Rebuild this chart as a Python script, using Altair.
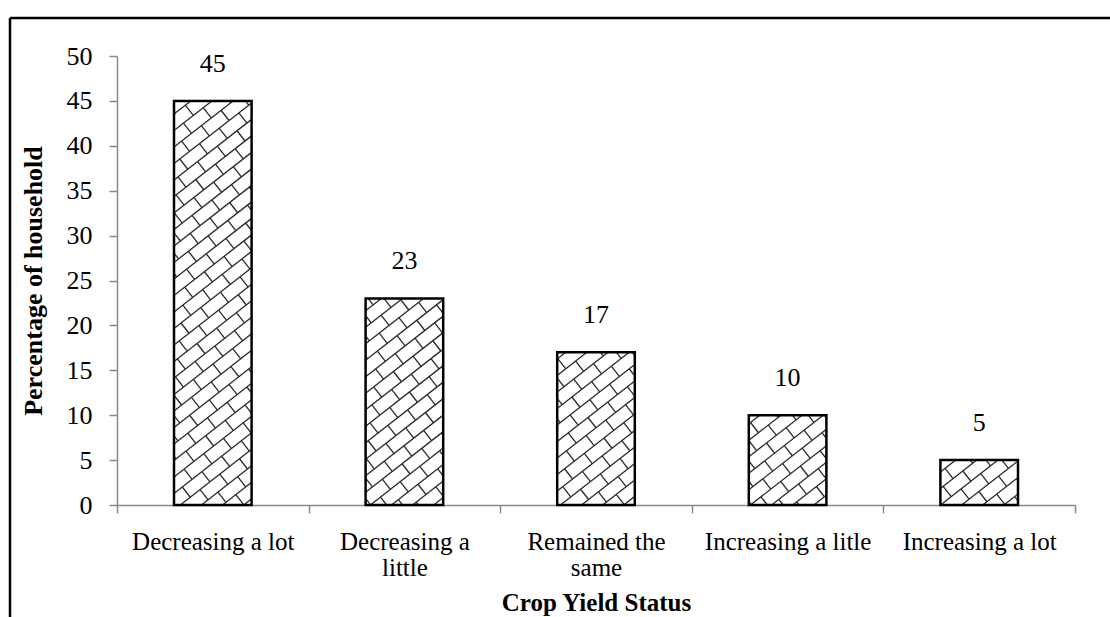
import math

import altair as alt
import numpy as np
import pandas as pd

# Share of households by perceived change in crop yield (%)
categories = [
    "Decreasing a lot",
    "Decreasing a\nlittle",
    "Remained the\nsame",
    "Increasing a litle",
    "Increasing a lot",
]
percent = [45, 23, 17, 10, 5]

y_ticks = [0, 5, 10, 15, 20, 25, 30, 35, 40, 45, 50]

# Plot geometry (plot area only) and bar width as a fraction of a band
W, H = 958, 449
Y_MAX = 50
BAR_FRAC = 0.405
N = len(categories)

SERIF = "Liberation Serif"
AXIS_GREY = "#8a8a8a"

# "Diagonal brick" fill: slanted rows with staggered joints, built in pixel
# space then converted to data units so it follows the scales.
HATCH_ANGLE = math.radians(38)
HATCH_GAP = 13.0
BRICK_LEN = 25.0

px_per_band = W / N
px_per_unit = H / Y_MAX


def clip_segment(p0, p1, rect):
    """Liang-Barsky clip of a segment to an axis-aligned rectangle."""
    x0, y0, x1, y1 = rect
    dx, dy = p1[0] - p0[0], p1[1] - p0[1]
    t0, t1 = 0.0, 1.0
    for p, q in ((-dx, p0[0] - x0), (dx, x1 - p0[0]), (-dy, p0[1] - y0), (dy, y1 - p0[1])):
        if abs(p) < 1e-12:
            if q < 0:
                return None
            continue
        r = q / p
        if p < 0:
            if r > t1:
                return None
            t0 = max(t0, r)
        else:
            if r < t0:
                return None
            t1 = min(t1, r)
    if t1 - t0 < 1e-6:
        return None
    return (p0[0] + t0 * dx, p0[1] + t0 * dy, p0[0] + t1 * dx, p0[1] + t1 * dy)


def brick_segments(i, value):
    left = (i + (1 - BAR_FRAC) / 2) * px_per_band
    right = left + BAR_FRAC * px_per_band
    top = value * px_per_unit
    rect = (left, 0.0, right, top)
    u = np.array([math.cos(HATCH_ANGLE), math.sin(HATCH_ANGLE)])
    n = np.array([-math.sin(HATCH_ANGLE), math.cos(HATCH_ANGLE)])
    corners = np.array([[left, 0.0], [right, 0.0], [left, top], [right, top]])
    cs, ts = corners @ n, corners @ u
    k_lo = int(math.floor(cs.min() / HATCH_GAP)) - 1
    k_hi = int(math.ceil(cs.max() / HATCH_GAP)) + 1
    t_lo, t_hi = ts.min() - BRICK_LEN, ts.max() + BRICK_LEN
    segs = []
    for k in range(k_lo, k_hi + 1):
        base = k * HATCH_GAP * n
        s = clip_segment(base + t_lo * u, base + t_hi * u, rect)
        if s:
            segs.append(s)
        shift = (k % 2) * BRICK_LEN / 2
        j_lo = int(math.floor((t_lo - shift) / BRICK_LEN))
        j_hi = int(math.ceil((t_hi - shift) / BRICK_LEN))
        for j in range(j_lo, j_hi + 1):
            t = j * BRICK_LEN + shift
            a = base + t * u
            b = a + HATCH_GAP * n
            s = clip_segment(a, b, rect)
            if s:
                segs.append(s)
    return segs


rows = []
for i, v in enumerate(percent):
    for x1, y1, x2, y2 in brick_segments(i, v):
        rows.append({
            "hx": x1 / px_per_band, "hy": y1 / px_per_unit,
            "hx2": x2 / px_per_band, "hy2": y2 / px_per_unit,
        })
hatch_df = pd.DataFrame(rows)

bars_df = pd.DataFrame({"status": categories, "pct": percent})

band_scale = alt.Scale(domain=categories, paddingInner=0, paddingOuter=0)
y_scale = alt.Scale(domain=[0, Y_MAX], nice=False)

hatch = alt.Chart(hatch_df).mark_rule(color="#2a2a2a", strokeWidth=1.3).encode(
    x=alt.X("hx:Q", scale=alt.Scale(domain=[0, N], nice=False, zero=False), axis=None),
    x2="hx2:Q",
    y=alt.Y("hy:Q", scale=y_scale, axis=None),
    y2="hy2:Q",
)

bars = alt.Chart(bars_df).mark_bar(
    width=alt.RelativeBandSize(BAR_FRAC),
    fillOpacity=0,
    stroke="black",
    strokeWidth=2.5,
).encode(
    x=alt.X(
        "status:N",
        sort=categories,
        scale=band_scale,
        axis=alt.Axis(
            title="Crop Yield Status",
            labelAngle=0,
            labelExpr="split(datum.label, '\\n')",
            labelFont=SERIF,
            labelFontSize=25,
            labelColor="black",
            labelLineHeight=26,
            labelPadding=16,
            labelBaseline="top",
            tickBand="extent",
            tickSize=8,
            tickColor=AXIS_GREY,
            tickWidth=1.5,
            domainColor=AXIS_GREY,
            domainWidth=1.5,
            titleFont=SERIF,
            titleFontSize=25,
            titleFontWeight="bold",
            titleColor="black",
            titleX=W / 2,
            titleY=105,
            titleAlign="center",
            titleBaseline="alphabetic",
        ),
    ),
    y=alt.Y(
        "pct:Q",
        scale=y_scale,
        axis=alt.Axis(
            title="Percentage of household",
            values=y_ticks,
            grid=False,
            labelFont=SERIF,
            labelFontSize=26,
            labelColor="black",
            labelPadding=17,
            tickSize=8,
            tickColor=AXIS_GREY,
            tickWidth=1.5,
            domainColor=AXIS_GREY,
            domainWidth=1.5,
            titleFont=SERIF,
            titleFontSize=26,
            titleFontWeight="bold",
            titleColor="black",
            titleAngle=270,
            titleX=-84,
            titleY=H / 2,
            titleAlign="center",
            titleBaseline="middle",
        ),
    ),
)

labels = alt.Chart(bars_df).mark_text(
    font=SERIF, fontSize=26, color="black", baseline="alphabetic", dy=-29
).encode(
    x=alt.X("status:N", sort=categories, scale=band_scale, axis=None),
    y=alt.Y("pct:Q", scale=y_scale, axis=None),
    text=alt.Text("pct:Q"),
)

# Figure frame (top and left edges sit inside the page)
frame_src = pd.DataFrame({"k": [0]})
frame_top = alt.Chart(frame_src).mark_rule(color="black", strokeWidth=2.5).encode(
    x=alt.value(-107), x2=alt.value(W + 60), y=alt.value(-38)
)
frame_left = alt.Chart(frame_src).mark_rule(color="black", strokeWidth=2.5).encode(
    x=alt.value(-107), y=alt.value(-38), y2=alt.value(H + 140)
)

chart = (
    alt.layer(hatch, bars, labels, frame_top, frame_left)
    .resolve_scale(x="independent", y="independent")
    .properties(
        width=W,
        height=H,
        autosize=alt.AutoSizeParams(type="none"),
        padding={"left": 117, "top": 56, "right": 35, "bottom": 112},
        background="white",
    )
    .configure_view(stroke=None)
)

chart.save("out.html", embed_options={"renderer": "svg", "actions": False})
